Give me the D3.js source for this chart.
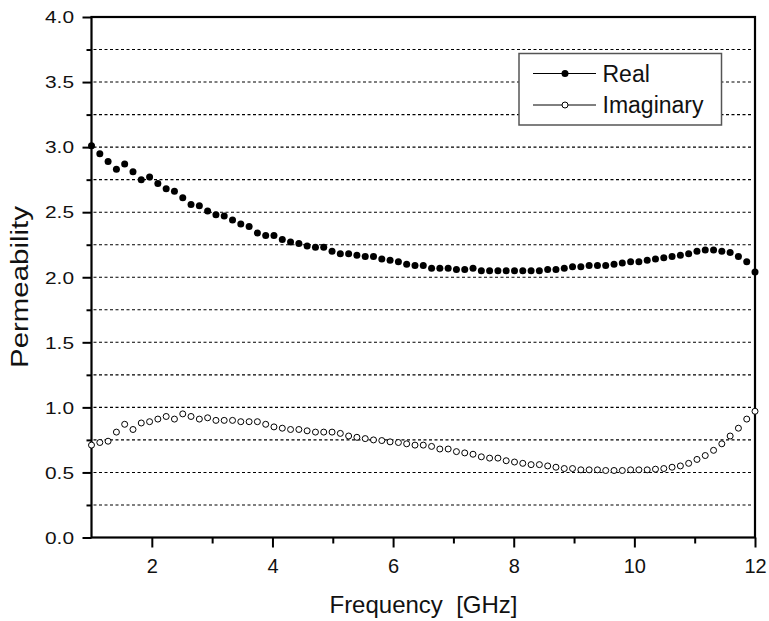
<!DOCTYPE html>
<html>
<head>
<meta charset="utf-8">
<script src="https://cdn.jsdelivr.net/npm/d3@7"></script>
<style>
  html, body { margin: 0; padding: 0; background: #fff; }
  svg { display: block; font-family: "Liberation Sans", Arial, sans-serif; }
</style>
</head>
<body>
<div id="chart"></div>
<script>
// frequency points (GHz)
const freq = [
  1.000, 1.138, 1.275, 1.413, 1.550, 1.688, 1.825, 1.963, 2.100, 2.238,
  2.375, 2.513, 2.650, 2.788, 2.925, 3.063, 3.200, 3.338, 3.475, 3.613,
  3.750, 3.888, 4.025, 4.163, 4.300, 4.438, 4.575, 4.713, 4.850, 4.988,
  5.125, 5.263, 5.400, 5.538, 5.675, 5.813, 5.950, 6.088, 6.225, 6.363,
  6.500, 6.638, 6.775, 6.913, 7.050, 7.188, 7.325, 7.463, 7.600, 7.738,
  7.875, 8.013, 8.150, 8.288, 8.425, 8.563, 8.700, 8.838, 8.975, 9.113,
  9.250, 9.388, 9.525, 9.663, 9.800, 9.938, 10.075, 10.213, 10.350, 10.488,
  10.625, 10.763, 10.900, 11.038, 11.175, 11.313, 11.450, 11.588, 11.725, 11.863,
  12.000
];

const realPart = [
  3.01, 2.95, 2.89, 2.83, 2.87, 2.81, 2.75, 2.77, 2.72, 2.68,
  2.66, 2.61, 2.56, 2.55, 2.51, 2.48, 2.47, 2.44, 2.41, 2.39,
  2.34, 2.32, 2.32, 2.29, 2.27, 2.26, 2.24, 2.23, 2.23, 2.20,
  2.18, 2.18, 2.17, 2.16, 2.16, 2.14, 2.13, 2.12, 2.10, 2.09,
  2.09, 2.07, 2.07, 2.07, 2.06, 2.06, 2.07, 2.05, 2.05, 2.05,
  2.05, 2.05, 2.05, 2.05, 2.05, 2.06, 2.06, 2.07, 2.08, 2.08,
  2.09, 2.09, 2.09, 2.10, 2.11, 2.12, 2.12, 2.13, 2.14, 2.15,
  2.16, 2.17, 2.18, 2.20, 2.21, 2.21, 2.20, 2.19, 2.16, 2.12,
  2.04
];

const imagPart = [
  0.71, 0.73, 0.74, 0.81, 0.87, 0.83, 0.88, 0.89, 0.91, 0.93,
  0.91, 0.95, 0.93, 0.91, 0.92, 0.90, 0.90, 0.90, 0.89, 0.89,
  0.89, 0.87, 0.85, 0.84, 0.83, 0.83, 0.82, 0.81, 0.81, 0.81,
  0.80, 0.78, 0.77, 0.76, 0.75, 0.745, 0.735, 0.73, 0.72, 0.71,
  0.71, 0.70, 0.68, 0.68, 0.66, 0.65, 0.64, 0.62, 0.61, 0.61,
  0.59, 0.58, 0.57, 0.56, 0.56, 0.55, 0.54, 0.53, 0.53, 0.52,
  0.52, 0.52, 0.515, 0.515, 0.515, 0.52, 0.52, 0.52, 0.525, 0.53,
  0.54, 0.55, 0.57, 0.60, 0.63, 0.67, 0.72, 0.78, 0.84, 0.91,
  0.97
];

const xMajorTicks = [2, 4, 6, 8, 10, 12];
const xMinorTicks = [3, 5, 7, 9, 11];
const yMajorTicks = [0, 0.5, 1.0, 1.5, 2.0, 2.5, 3.0, 3.5, 4.0];
const yMinorTicks = [0.25, 0.75, 1.25, 1.75, 2.25, 2.75, 3.25, 3.75];
const gridLines = [0.25, 0.5, 0.75, 1.0, 1.25, 1.5, 1.75, 2.0, 2.25, 2.5, 2.75, 3.0, 3.25, 3.5, 3.75];

const seriesNames = ['Real', 'Imaginary'];

const width = 769, height = 621;
const plotLeft = 91.5, plotRight = 755, plotTop = 17, plotBottom = 537.5;

const svg = d3.select('#chart').append('svg')
  .attr('width', width)
  .attr('height', height);

const x = d3.scaleLinear().domain([1, 12]).range([plotLeft, plotRight]);
const y = d3.scaleLinear().domain([0, 4]).range([plotBottom, plotTop]);

// dashed gridlines
svg.append('g')
  .selectAll('line')
  .data(gridLines)
  .enter()
  .append('line')
  .attr('x1', plotLeft + 2)
  .attr('x2', plotRight - 2)
  .attr('y1', d => y(d))
  .attr('y2', d => y(d))
  .attr('stroke', '#000')
  .attr('stroke-width', 1.1)
  .attr('stroke-dasharray', '3,2.5');

// y axis: major with labels, minor without
const yMajor = svg.append('g')
  .attr('transform', `translate(${plotLeft},0)`)
  .call(d3.axisLeft(y).tickValues(yMajorTicks).tickSize(9).tickSizeOuter(0).tickFormat(d3.format('.1f')));
yMajor.select('.domain').remove();
yMajor.selectAll('line').attr('stroke', '#000').attr('stroke-width', 2);
yMajor.selectAll('text')
  .attr('x', -17.5)
  .attr('dy', '0.36em')
  .attr('textLength', 29)
  .attr('lengthAdjust', 'spacingAndGlyphs')
  .style('font-size', '16px')
  .style('font-family', '"Liberation Sans", Arial, sans-serif')
  .attr('fill', '#111');

const yMinor = svg.append('g')
  .attr('transform', `translate(${plotLeft},0)`)
  .call(d3.axisLeft(y).tickValues(yMinorTicks).tickSize(5).tickSizeOuter(0).tickFormat(''));
yMinor.select('.domain').remove();
yMinor.selectAll('line').attr('stroke', '#000').attr('stroke-width', 2);

// x axis
const xMajor = svg.append('g')
  .attr('transform', `translate(0,${plotBottom})`)
  .call(d3.axisBottom(x).tickValues(xMajorTicks).tickSize(10).tickSizeOuter(0));
xMajor.select('.domain').remove();
xMajor.selectAll('line').attr('stroke', '#000').attr('stroke-width', 2);
xMajor.selectAll('text')
  .attr('y', 35)
  .attr('dy', 0)
  .style('font-size', '20px')
  .style('font-family', '"Liberation Sans", Arial, sans-serif')
  .attr('fill', '#111');

const xMinor = svg.append('g')
  .attr('transform', `translate(0,${plotBottom})`)
  .call(d3.axisBottom(x).tickValues(xMinorTicks).tickSize(6).tickSizeOuter(0).tickFormat(''));
xMinor.select('.domain').remove();
xMinor.selectAll('line').attr('stroke', '#000').attr('stroke-width', 2);

// frame
svg.append('rect')
  .attr('x', plotLeft)
  .attr('y', plotTop)
  .attr('width', plotRight - plotLeft)
  .attr('height', plotBottom - plotTop)
  .attr('fill', 'none')
  .attr('stroke', '#000')
  .attr('stroke-width', 2.2);

// data markers
const realData = freq.map((f, i) => ({ f, v: realPart[i] }));
const imagData = freq.map((f, i) => ({ f, v: imagPart[i] }));

svg.append('g')
  .selectAll('circle')
  .data(imagData)
  .enter()
  .append('circle')
  .attr('cx', d => x(d.f))
  .attr('cy', d => y(d.v))
  .attr('r', 3)
  .attr('fill', '#fff')
  .attr('stroke', '#000')
  .attr('stroke-width', 1);

svg.append('g')
  .selectAll('circle')
  .data(realData)
  .enter()
  .append('circle')
  .attr('cx', d => x(d.f))
  .attr('cy', d => y(d.v))
  .attr('r', 3.5)
  .attr('fill', '#000');

// legend
const legend = svg.append('g');
legend.append('rect')
  .attr('x', 519)
  .attr('y', 53.5)
  .attr('width', 202.5)
  .attr('height', 71.5)
  .attr('fill', '#fff')
  .attr('stroke', '#555')
  .attr('stroke-width', 1.5);

const legendRows = [73.5, 105];
seriesNames.forEach((name, i) => {
  const ly = legendRows[i];
  legend.append('line')
    .attr('x1', 533).attr('x2', 596)
    .attr('y1', ly).attr('y2', ly)
    .attr('stroke', '#000').attr('stroke-width', 1);
  legend.append('circle')
    .attr('cx', 565)
    .attr('cy', ly)
    .attr('r', i === 0 ? 3.5 : 3)
    .attr('fill', i === 0 ? '#000' : '#fff')
    .attr('stroke', '#000')
    .attr('stroke-width', i === 0 ? 0 : 1);
  legend.append('text')
    .text(name)
    .attr('x', 602.5)
    .attr('y', ly)
    .attr('dy', '0.36em')
    .style('font-size', '23px')
    .attr('fill', '#111');
});

// axis titles
svg.append('text')
  .text('Frequency\u00a0\u00a0[GHz]')
  .attr('x', 423.5)
  .attr('y', 613)
  .attr('text-anchor', 'middle')
  .style('font-size', '24px')
  .attr('fill', '#111');

svg.append('text')
  .text('Permeability')
  .attr('transform', 'translate(28,287) rotate(-90)')
  .attr('text-anchor', 'middle')
  .attr('textLength', 162)
  .attr('lengthAdjust', 'spacingAndGlyphs')
  .style('font-size', '23px')
  .attr('fill', '#111');
</script>
</body>
</html>
